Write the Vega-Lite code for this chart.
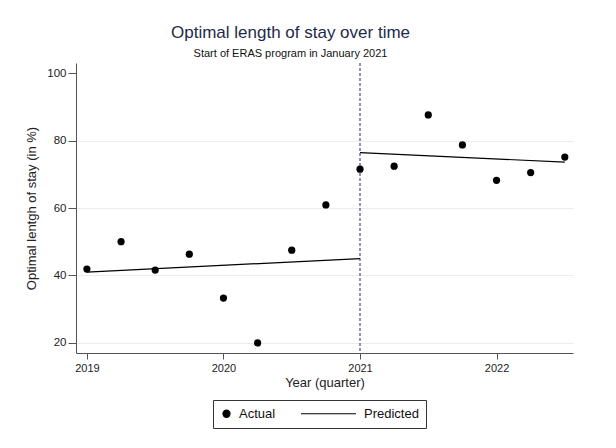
{
  "$schema": "https://vega.github.io/schema/vega-lite/v6.json",
  "autosize": "none",
  "width": 497,
  "height": 290,
  "padding": {"left": 76, "top": 63, "right": 43, "bottom": 95},
  "background": "white",
  "config": {
    "font": "Liberation Sans",
    "view": {"stroke": null},
    "axis": {"domainColor": "#555", "tickColor": "#555", "labelColor": "#222", "titleColor": "#222", "titleFontWeight": "normal", "labelFont": "Liberation Sans", "titleFont": "Liberation Sans"}
  },
  "title": {
    "text": "Optimal length of stay over time",
    "subtitle": "Start of ERAS program in January 2021",
    "anchor": "middle",
    "dx": -34,
    "fontSize": 17,
    "fontWeight": "normal",
    "color": "#1e2a4a",
    "subtitleFontSize": 11,
    "subtitleColor": "#111",
    "subtitlePadding": 6,
    "offset": 2
  },
  "datasets": {
    "actual": [
      {"quarter": 2019.0, "pct": 41.9, "series": "Actual"},
      {"quarter": 2019.25, "pct": 50.0, "series": "Actual"},
      {"quarter": 2019.5, "pct": 41.6, "series": "Actual"},
      {"quarter": 2019.75, "pct": 46.3, "series": "Actual"},
      {"quarter": 2020.0, "pct": 33.3, "series": "Actual"},
      {"quarter": 2020.25, "pct": 20.0, "series": "Actual"},
      {"quarter": 2020.5, "pct": 47.5, "series": "Actual"},
      {"quarter": 2020.75, "pct": 60.9, "series": "Actual"},
      {"quarter": 2021.0, "pct": 71.5, "series": "Actual"},
      {"quarter": 2021.25, "pct": 72.4, "series": "Actual"},
      {"quarter": 2021.5, "pct": 87.6, "series": "Actual"},
      {"quarter": 2021.75, "pct": 78.7, "series": "Actual"},
      {"quarter": 2022.0, "pct": 68.2, "series": "Actual"},
      {"quarter": 2022.25, "pct": 70.5, "series": "Actual"},
      {"quarter": 2022.5, "pct": 75.1, "series": "Actual"}
    ],
    "predicted": [
      {"quarter": 2019.0, "pct": 41.0, "segment": "pre", "series": "Predicted"},
      {"quarter": 2021.0, "pct": 45.0, "segment": "pre", "series": "Predicted"},
      {"quarter": 2021.0, "pct": 76.4, "segment": "post", "series": "Predicted"},
      {"quarter": 2022.5, "pct": 73.6, "segment": "post", "series": "Predicted"}
    ],
    "eras": [{"quarter": 2021.0}]
  },
  "layer": [
    {
      "data": {"name": "eras"},
      "mark": {"type": "rule", "color": "#4a4a9a", "strokeDash": [3, 2], "strokeWidth": 1.2},
      "encoding": {
        "x": {"field": "quarter", "type": "quantitative"}
      }
    },
    {
      "data": {"name": "predicted"},
      "mark": {"type": "line", "strokeWidth": 1.2},
      "encoding": {
        "x": {"field": "quarter", "type": "quantitative"},
        "y": {"field": "pct", "type": "quantitative"},
        "detail": {"field": "segment"},
        "color": {
          "field": "series", "type": "nominal",
          "scale": {"domain": ["Actual", "Predicted"], "range": ["#000000", "#000000"]},
          "legend": {
            "title": null,
            "orient": "none",
            "direction": "horizontal",
            "legendX": 137,
            "legendY": 337,
            "strokeColor": "#333",
            "padding": 7,
            "labelFontSize": 13,
            "labelColor": "#111",
            "labelOffset": {"expr": "datum.value === 'Predicted' ? 29 : 6"},
            "columnPadding": 22,
            "symbolType": {"expr": "datum.value === 'Predicted' ? 'stroke' : 'circle'"},
            "symbolSize": {"expr": "datum.value === 'Predicted' ? 3025 : 50"},
            "symbolFillColor": {"expr": "datum.value === 'Predicted' ? 'transparent' : '#000000'"},
            "symbolStrokeColor": "#000000",
            "symbolStrokeWidth": 1.2
          }
        }
      }
    },
    {
      "data": {"name": "actual"},
      "mark": {"type": "point", "filled": true, "color": "#000", "size": 52, "opacity": 1},
      "encoding": {
        "x": {
          "field": "quarter", "type": "quantitative",
          "scale": {"domain": [2018.92, 2022.56], "nice": false, "zero": false},
          "axis": {"title": "Year (quarter)", "values": [2019, 2020, 2021, 2022], "format": "d", "grid": false, "tickSize": 6, "labelFontSize": 11, "titleFontSize": 13, "labelPadding": 3, "titlePadding": 3}
        },
        "y": {
          "field": "pct", "type": "quantitative",
          "scale": {"domain": [17, 103], "nice": false, "zero": false},
          "axis": {"title": "Optimal lentgh of stay (in %)", "values": [20, 40, 60, 80, 100], "tickSize": 8, "labelFontSize": 11.5, "titleFontSize": 13, "labelPadding": 2, "titlePadding": 8,
            "grid": true, "gridColor": {"condition": {"test": "datum.value === 100", "value": "transparent"}, "value": "#ececec"}}
        }
      }
    }
  ]
}
